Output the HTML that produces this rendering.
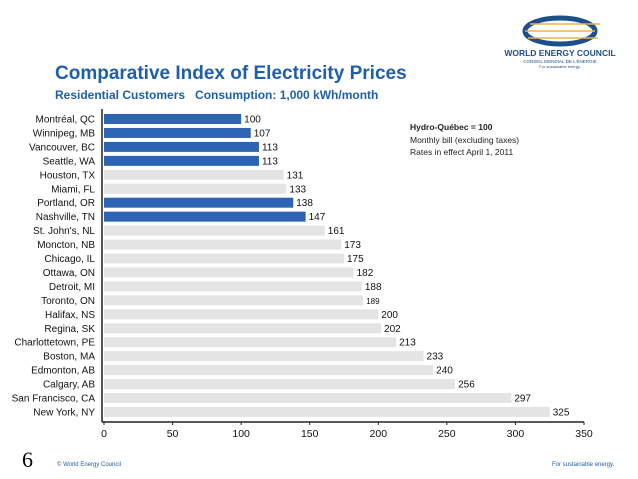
<!DOCTYPE html>
<html><head><meta charset="utf-8"><style>
body{margin:0;width:638px;height:479px;background:#fff;overflow:hidden;font-family:"Liberation Sans",sans-serif;position:relative}
.t{position:absolute;white-space:nowrap}
</style></head><body>
<svg style="position:absolute;left:480px;top:0" width="158" height="70">
<ellipse cx="80" cy="31" rx="35" ry="13" fill="none" stroke="#1d4f8f" stroke-width="5"/>
<line x1="50" y1="24" x2="120" y2="24" stroke="#e8b34a" stroke-width="1.5"/>
<line x1="45" y1="31" x2="115" y2="31" stroke="#e8b34a" stroke-width="1.5"/>
<line x1="48" y1="38" x2="118" y2="38" stroke="#e8b34a" stroke-width="1.5"/>
<text x="80" y="56" font-size="8.5" font-weight="bold" fill="#1d4f8f" text-anchor="middle" font-family="Liberation Sans">WORLD ENERGY COUNCIL</text>
<text x="80" y="63" font-size="4.5" fill="#1d4f8f" text-anchor="middle" font-family="Liberation Sans">CONSEIL MONDIAL DE L'ÉNERGIE</text>
<text x="80" y="68" font-size="4" fill="#1d4f8f" text-anchor="middle" font-family="Liberation Sans">For sustainable energy.</text>
</svg>
<div class="t" style="left:55px;top:63px;font-size:19px;font-weight:bold;color:#1f5fa8">Comparative Index of Electricity Prices</div>
<div class="t" style="left:55px;top:88px;font-size:12px;font-weight:bold;color:#1f5fa8">Residential Customers&nbsp;&nbsp;&nbsp;Consumption: 1,000 kWh/month</div>
<div class="t" style="left:410px;top:121px;font-size:8.5px;line-height:12.5px;color:#222"><b>Hydro-Québec = 100</b><br>Monthly bill (excluding taxes)<br>Rates in effect April 1, 2011</div>
<svg id="c" style="position:absolute;left:0;top:0" width="638" height="479"></svg>
<div class="t" style="left:22px;top:447px;font-size:22px;font-family:'Liberation Serif',serif">6</div>
<div class="t" style="left:57px;top:462px;font-size:6px;color:#1f5fa8">© World Energy Council</div>
<div class="t" style="left:552px;top:462px;font-size:6px;color:#1f5fa8">For sustainable energy.</div>
<script>
const cities=["Montréal, QC","Winnipeg, MB","Vancouver, BC","Seattle, WA","Houston, TX","Miami, FL","Portland, OR","Nashville, TN","St. John's, NL","Moncton, NB","Chicago, IL","Ottawa, ON","Detroit, MI","Toronto, ON","Halifax, NS","Regina, SK","Charlottetown, PE","Boston, MA","Edmonton, AB","Calgary, AB","San Francisco, CA","New York, NY"];
const values=[100,107,113,113,131,133,138,147,161,173,175,182,188,189,200,202,213,233,240,256,297,325];
const highlighted=[1,1,1,1,0,0,1,1,0,0,0,0,0,0,0,0,0,0,0,0,0,0];
const ticks=[0,50,100,150,200,250,300,350];
const svg=document.getElementById('c');const NS='http://www.w3.org/2000/svg';
const x0=104,x1=584,vmax=350,y0=119,step=13.95,bh=10,axisY=422;
const X=v=>x0+(x1-x0)*v/vmax;const Y=i=>y0+i*step;
function mk(t,a){const e=document.createElementNS(NS,t);for(const k in a)e.setAttribute(k,a[k]);svg.appendChild(e);return e;}
cities.forEach((c,i)=>{
 const r=mk('rect',{x:x0,y:Y(i)-bh/2,width:X(values[i])-x0,height:bh,fill:highlighted[i]?'#2e64b4':'#e4e4e4'});
 
 
 const l=mk('text',{x:95,y:Y(i)+3.5,'font-size':10,'text-anchor':'end',fill:'#111','font-family':'Liberation Sans, sans-serif'});l.textContent=c;
 
 
 const v=mk('text',{x:X(values[i])+3,y:Y(i)+3.5,'font-size':values[i]==189?8:10,fill:'#111','font-family':'Liberation Sans, sans-serif'});v.textContent=values[i];
 
 
});
mk('line',{x1:102,y1:109,x2:102,y2:axisY,stroke:'#222','stroke-width':1.5});
mk('line',{x1:102,y1:axisY,x2:X(350),y2:axisY,stroke:'#222','stroke-width':1.5});
ticks.forEach(t=>{
 mk('line',{x1:X(t),y1:axisY,x2:X(t),y2:axisY+3,stroke:'#222'});
 const e=mk('text',{x:X(t),y:axisY+15,'font-size':10.5,'text-anchor':'middle',fill:'#111','font-family':'Liberation Sans, sans-serif'});e.textContent=t;
 
 
});
</script>
</body></html>
